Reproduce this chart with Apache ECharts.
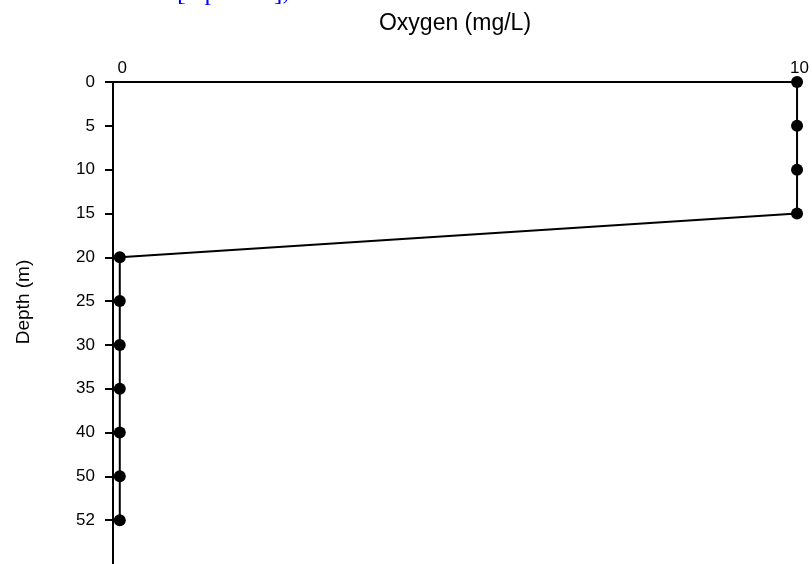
<!DOCTYPE html>
<html>
<head>
<meta charset="utf-8">
<script src="https://cdn.jsdelivr.net/npm/echarts@6/dist/echarts.min.js"></script>
<style>
html,body{margin:0;padding:0;background:#fff;}
#chart{width:812px;height:564px;}
</style>
</head>
<body>
<div id="chart"></div>
<script>
// Data
var depthCategories = ['0', '5', '10', '15', '20', '25', '30', '35', '40', '50', '52', ''];
var oxygenValues = [10, 10, 10, 10, 0, 0, 0, 0, 0, 0, 0];
var xTickLabels = [0, 10];
var xTitle = 'Oxygen (mg/L)';
var yTitle = 'Depth (m)';
var noteText = '[Updated],';

var chart = echarts.init(document.getElementById('chart'));
var seriesData = oxygenValues.map(function (v, i) { return [v, i]; });

chart.setOption({
  animation: false,
  backgroundColor: '#ffffff',
  grid: { left: 113, right: 9, top: 82, bottom: -3, containLabel: false },
  xAxis: {
    type: 'value',
    position: 'top',
    min: -0.1,
    max: 10,
    name: xTitle,
    nameLocation: 'middle',
    nameGap: 47,
    nameTextStyle: { color: '#000', fontFamily: 'Liberation Sans', fontSize: 23 },
    axisLine: { show: true, onZero: false, lineStyle: { color: '#000', width: 2 } },
    axisTick: { show: false },
    splitLine: { show: false },
    axisLabel: {
      customValues: xTickLabels,
      color: '#000',
      fontFamily: 'Liberation Sans',
      fontSize: 17,
      margin: 5,
      padding: [0, 0, 0, 5]
    }
  },
  yAxis: {
    type: 'category',
    inverse: true,
    boundaryGap: false,
    data: depthCategories,
    axisLine: { show: true, onZero: false, lineStyle: { color: '#000', width: 2 } },
    axisTick: { show: true, length: 8, lineStyle: { color: '#000', width: 2 }, interval: function (i) { return i < depthCategories.length - 1; } },
    axisLabel: {
      color: '#000',
      fontFamily: 'Liberation Sans',
      fontSize: 17,
      margin: 18,
      interval: 0
    },
    splitLine: { show: false }
  },
  graphic: [
    {
      type: 'text',
      x: 24,
      y: 302,
      rotation: Math.PI / 2,
      style: {
        text: yTitle,
        fill: '#000',
        font: '19px "Liberation Sans"',
        align: 'center',
        verticalAlign: 'middle'
      }
    },
    {
      type: 'text',
      x: 177,
      y: -20,
      style: {
        text: noteText,
        fill: '#0000ff',
        font: '26px "Liberation Serif"',
        verticalAlign: 'top'
      }
    }
  ],
  series: [{
    type: 'line',
    data: seriesData,
    symbol: 'circle',
    symbolSize: 12,
    itemStyle: { color: '#000' },
    lineStyle: { color: '#000', width: 2 }
  }]
});
</script>
</body>
</html>
